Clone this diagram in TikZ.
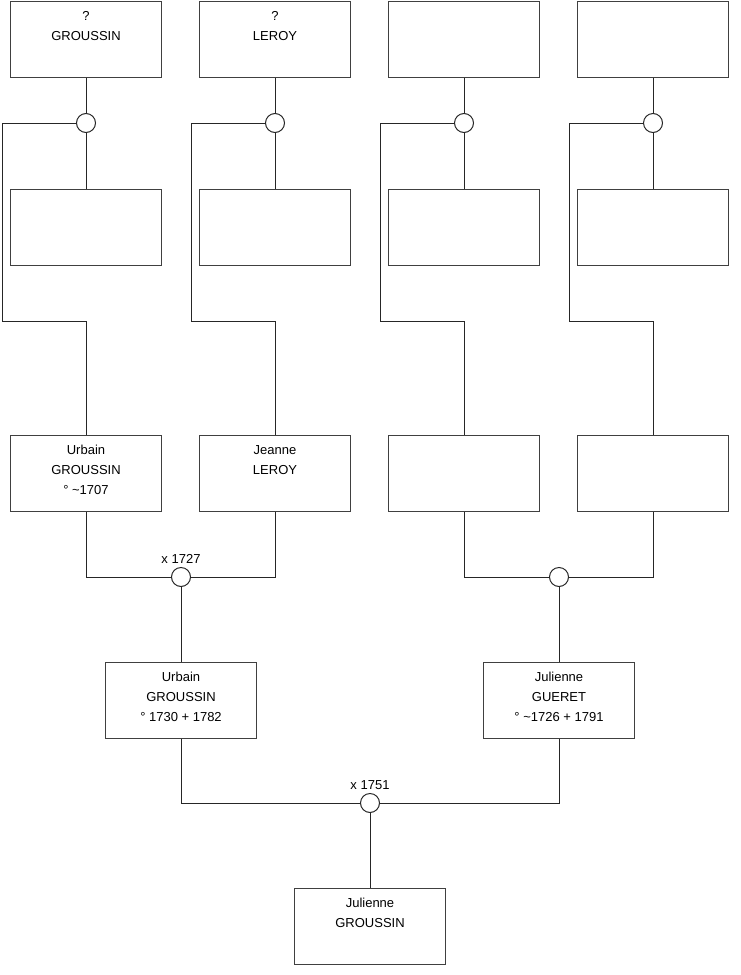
\documentclass[tikz,border=0pt]{standalone}
\usepackage{fontspec}
\setmainfont{Liberation Sans}
\begin{document}
\begin{tikzpicture}[x=1pt,y=-1pt,
  conn/.style={line width=1pt, draw=black!85},
  box/.style={draw=black!75, line width=1pt, fill=white, minimum width=151pt, minimum height=76pt, inner sep=0pt, anchor=north},
  txt/.style={font=\fontsize{13}{20}\selectfont, align=center, anchor=north, yshift=-5.5pt, inner sep=0pt},
  ring/.style={circle, draw=black!85, line width=1pt, fill=white, minimum size=19pt, inner sep=0pt},
  yr/.style={font=\fontsize{13}{14}\selectfont, inner sep=3pt}]
\useasboundingbox (0,0) rectangle (740,975);
% top row
\node[box, label={[txt]north:{\strut?\\GROUSSIN}}] (t1) at (86,0.5) {};
\node[box, label={[txt]north:{\strut?\\LEROY}}] (t2) at (275,0.5) {};
\node[box] (t3) at (464,0.5) {};
\node[box] (t4) at (653,0.5) {};
% circles
\node[ring] (c1) at (86,123) {};
\node[ring] (c2) at (275,123) {};
\node[ring] (c3) at (464,123) {};
\node[ring] (c4) at (653,123) {};
% second row
\node[box] (s1) at (86,189) {};
\node[box] (s2) at (275,189) {};
\node[box] (s3) at (464,189) {};
\node[box] (s4) at (653,189) {};
% third row
\node[box, label={[txt]north:{\strut Urbain\\GROUSSIN\\° \textasciitilde1707}}] (p1) at (86,435) {};
\node[box, label={[txt]north:{\strut Jeanne\\LEROY}}] (p2) at (275,435) {};
\node[box] (p3) at (464,435) {};
\node[box] (p4) at (653,435) {};
% marriage circles
\node[ring, label={[yr]above:x 1727}] (m1) at (181,577) {};
\node[ring] (m2) at (559,577) {};
% fourth row
\node[box, label={[txt]north:{\strut Urbain\\GROUSSIN\\° 1730 + 1782}}] (q1) at (181,662) {};
\node[box, label={[txt]north:{\strut Julienne\\GUERET\\° \textasciitilde1726 + 1791}}] (q2) at (559,662) {};
\node[ring, label={[yr]above:x 1751}] (m3) at (370,803) {};
\node[box, label={[txt]north:{\strut Julienne\\GROUSSIN}}] (b) at (370,888) {};
% bends
\coordinate (k1) at (2,321);
\coordinate (k2) at (191,321);
\coordinate (k3) at (380,321);
\coordinate (k4) at (569,321);
% connectors
\foreach \i in {1,2,3,4}{
  \draw[conn] (t\i.south) -- (c\i.north);
  \draw[conn] (c\i.south) -- (s\i.north);
  \draw[conn] (c\i.west) -| (k\i) -| (p\i.north);
}
\draw[conn] (p1.south) |- (m1.west);
\draw[conn] (p2.south) |- (m1.east);
\draw[conn] (p3.south) |- (m2.west);
\draw[conn] (p4.south) |- (m2.east);
\draw[conn] (m1.south) -- (q1.north);
\draw[conn] (m2.south) -- (q2.north);
\draw[conn] (q1.south) |- (m3.west);
\draw[conn] (q2.south) |- (m3.east);
\draw[conn] (m3.south) -- (b.north);
\end{tikzpicture}
\end{document}
